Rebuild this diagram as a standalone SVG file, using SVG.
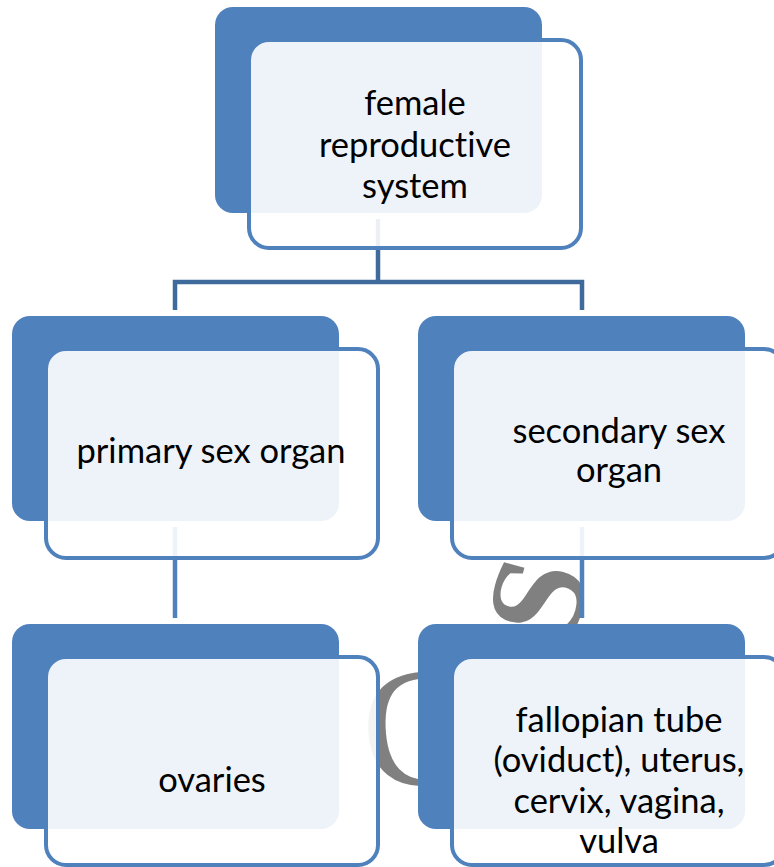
<svg xmlns="http://www.w3.org/2000/svg" width="774" height="867" viewBox="0 0 774 867">
<style>
.back{fill:#4F81BD;}
.front{fill:#FFFFFF;fill-opacity:0.9;stroke:#4F81BD;stroke-width:4;}
.lbl{font-family:Lato,"Liberation Sans",sans-serif;font-size:34.5px;fill:#000;text-anchor:middle;font-variant-ligatures:none;}
.c1{stroke:#3E6B9C;stroke-width:4.5;fill:none;}
.c2{stroke:#4F81BD;stroke-width:4.5;fill:none;}
.wm{font-family:"Liberation Serif",serif;fill:#808080;text-anchor:middle;dominant-baseline:central;}
</style>
<rect width="774" height="867" fill="#FFFFFF"/>
<g id="watermark">
<text class="wm" font-size="135" font-weight="bold" transform="translate(537,598) rotate(-75)">S</text>
<text class="wm" font-size="170" transform="translate(418,728) rotate(-5)">C</text>
</g>
<g id="connectors">
<path class="c1" d="M378,219 V282 M175,310 V282 H582 V310"/>
<path class="c2" d="M175,527 V618"/>
<path class="c2" d="M582,527 V618"/>
</g>
<g id="node-root">
<rect class="back" x="215" y="7" width="327" height="206" rx="18"/>
<rect class="front" x="249" y="40" width="332" height="208" rx="20"/>
<text class="lbl" x="415" y="115">female</text>
<text class="lbl" x="415" y="157">reproductive</text>
<text class="lbl" x="415" y="198">system</text>
</g>
<g id="node-primary">
<rect class="back" x="12" y="316" width="327" height="205" rx="18"/>
<rect class="front" x="46" y="349" width="332" height="209" rx="20"/>
<text class="lbl" x="211" y="463">primary sex organ</text>
</g>
<g id="node-secondary">
<rect class="back" x="418" y="316" width="327" height="205" rx="18"/>
<rect class="front" x="452" y="349" width="332" height="209" rx="20"/>
<text class="lbl" x="619" y="443">secondary sex</text>
<text class="lbl" x="619" y="482">organ</text>
</g>
<g id="node-ovaries">
<rect class="back" x="12" y="624" width="327" height="205" rx="18"/>
<rect class="front" x="46" y="657" width="332" height="208" rx="20"/>
<text class="lbl" x="212" y="792">ovaries</text>
</g>
<g id="node-secondary-organs">
<rect class="back" x="418" y="624" width="327" height="205" rx="18"/>
<rect class="front" x="452" y="657" width="332" height="208" rx="20"/>
<text class="lbl" x="619" y="732">fallopian tube</text>
<text class="lbl" x="619" y="772">(oviduct), uterus,</text>
<text class="lbl" x="619" y="813">cervix, vagina,</text>
<text class="lbl" x="619" y="853">vulva</text>
</g>
</svg>
